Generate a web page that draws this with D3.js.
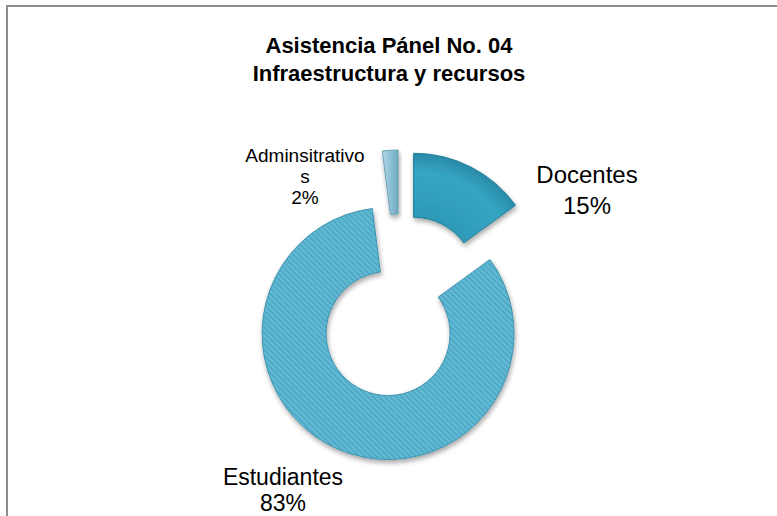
<!DOCTYPE html>
<html>
<head>
<meta charset="utf-8">
<script src="https://cdn.jsdelivr.net/npm/d3@7"></script>
<style>
  html, body { margin: 0; padding: 0; background: #fff; }
  svg { display: block; font-family: Arial, "Liberation Sans", sans-serif; }
</style>
</head>
<body>
<svg id="chart" width="777" height="516"></svg>
<script>
const titleLines = ["Asistencia Pánel No. 04", "Infraestructura y recursos"];
const categories = ["Docentes", "Estudiantes", "Adminsitrativos"];
const values = [15, 83, 2];
const labelLines = [["Docentes", "15%"], ["Estudiantes", "83%"], ["Adminsitrativo", "s", "2%"]];
const labelPos = [[587, 183], [283, 485], [305, 162]];
const labelSize = [24, 23, 19];
const labelLineGap = [31, 26, 21];

const svg = d3.select("#chart");
const W = 777, H = 516;
const cx = 400, cy = 306, rOuter = 126, rInner = 62, explode = 30;

const defs = svg.append("defs");
const pat = defs.append("pattern").attr("id", "stripes").attr("patternUnits", "userSpaceOnUse")
  .attr("width", 4).attr("height", 4).attr("patternTransform", "rotate(-45)");
pat.append("rect").attr("width", 4).attr("height", 4).attr("fill", "#62bad5");
pat.append("rect").attr("width", 1.5).attr("height", 4).attr("fill", "#4aa5c2");

const gD = defs.append("radialGradient").attr("id", "gDoc").attr("gradientUnits", "userSpaceOnUse")
  .attr("cx", 0).attr("cy", 0).attr("r", rOuter);
gD.append("stop").attr("offset", "0.5").attr("stop-color", "#2d9ab8");
gD.append("stop").attr("offset", "0.85").attr("stop-color", "#34a6c4");
gD.append("stop").attr("offset", "1").attr("stop-color", "#2a8aa6");

const gA = defs.append("linearGradient").attr("id", "gAdm").attr("x1", 0).attr("x2", 1).attr("y1", 0).attr("y2", 0);
gA.append("stop").attr("offset", "0").attr("stop-color", "#b4d8e6");
gA.append("stop").attr("offset", "0.5").attr("stop-color", "#8ec2d6");
gA.append("stop").attr("offset", "1").attr("stop-color", "#6fa9c0");

const shadow = defs.append("filter").attr("id", "shadow").attr("x", "-20%").attr("y", "-20%").attr("width", "140%").attr("height", "140%");
shadow.append("feGaussianBlur").attr("in", "SourceAlpha").attr("stdDeviation", 2.5).attr("result", "b");
shadow.append("feOffset").attr("in", "b").attr("dx", 1).attr("dy", 3).attr("result", "o");
shadow.append("feComponentTransfer").attr("in", "o").attr("result", "s")
  .append("feFuncA").attr("type", "linear").attr("slope", 0.35);
const merge = shadow.append("feMerge");
merge.append("feMergeNode").attr("in", "s");
merge.append("feMergeNode").attr("in", "SourceGraphic");

svg.append("line").attr("x1", 7).attr("y1", 6).attr("x2", W).attr("y2", 6).attr("stroke", "#8c8c8c").attr("stroke-width", 2);
svg.append("line").attr("x1", 7).attr("y1", 5).attr("x2", 7).attr("y2", H).attr("stroke", "#8c8c8c").attr("stroke-width", 2);

const title = svg.append("text").attr("text-anchor", "middle").attr("font-weight", "bold")
  .attr("font-size", 22).attr("fill", "#000");
titleLines.forEach((t, i) => title.append("tspan").attr("x", 389).attr("y", 53 + i * 28).text(t));

const pie = d3.pie().sort(null).value(d => d)(values);
const arc = d3.arc().innerRadius(rInner).outerRadius(rOuter);
const fills = ["url(#gDoc)", "url(#stripes)", "url(#gAdm)"];
const strokes = ["#237f99", "#3f93ae", "#6fa3b8"];

const g = svg.append("g").attr("transform", `translate(${cx},${cy})`);
g.selectAll("path").data(pie).join("path")
  .attr("transform", d => {
    const a = (d.startAngle + d.endAngle) / 2;
    return `translate(${explode * Math.sin(a)},${-explode * Math.cos(a)})`;
  })
  .attr("d", arc)
  .attr("fill", (d, i) => fills[i])
  .attr("stroke", (d, i) => strokes[i])
  .attr("stroke-width", 1)
  .attr("filter", "url(#shadow)");

labelLines.forEach((lines, i) => {
  const t = svg.append("text").attr("text-anchor", "middle").attr("font-size", labelSize[i]).attr("fill", "#000");
  lines.forEach((l, j) => t.append("tspan").attr("x", labelPos[i][0]).attr("y", labelPos[i][1] + j * labelLineGap[i]).text(l));
});
</script>
</body>
</html>
